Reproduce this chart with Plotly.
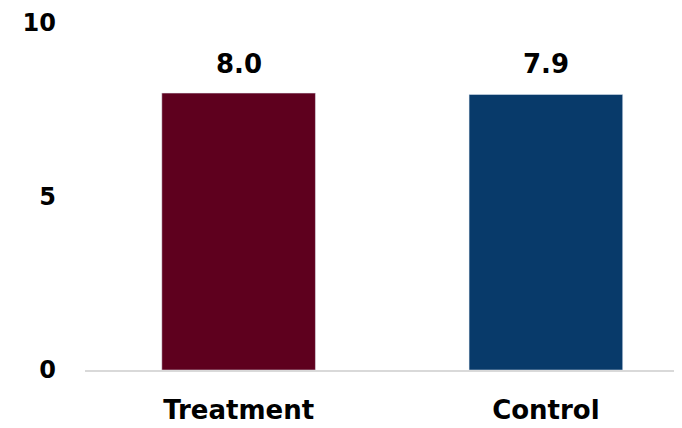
import plotly.graph_objects as go

categories = ["Treatment", "Control"]
values = [7.98, 7.94]
colors = ["#5E001E", "#083A6A"]
y_ticks = [0, 5, 10]

fig = go.Figure(go.Bar(
    x=categories, y=values, marker_color=colors, width=0.5,
))
for c, v in zip(categories, values):
    fig.add_annotation(x=c, y=max(values), text=f"{v:.1f}", showarrow=False,
                       yanchor="bottom", yshift=12,
                       font=dict(size=26, color="black", family="DejaVu Sans", weight="bold"))

# page body has an 8px margin, so figure is 8px smaller and offset
fig.update_layout(
    width=674, height=420,
    margin=dict(l=77, r=0, t=15, b=58),
    paper_bgcolor="white", plot_bgcolor="white",
    font=dict(family="DejaVu Sans", color="black", size=24),
    showlegend=False,
)
fig.update_xaxes(
    range=[-0.5, 1.443], showline=True, linecolor="#D9D9D9", linewidth=2,
    tickfont=dict(size=26, family="DejaVu Sans", weight="bold"), ticks="", ticklabelstandoff=16,
)
fig.update_yaxes(
    range=[0, 10], tickvals=y_ticks, showgrid=False, zeroline=False, showline=False,
    tickfont=dict(size=24, family="DejaVu Sans", weight="bold"), ticklabelstandoff=28,
)
fig.write_html("out.html")
